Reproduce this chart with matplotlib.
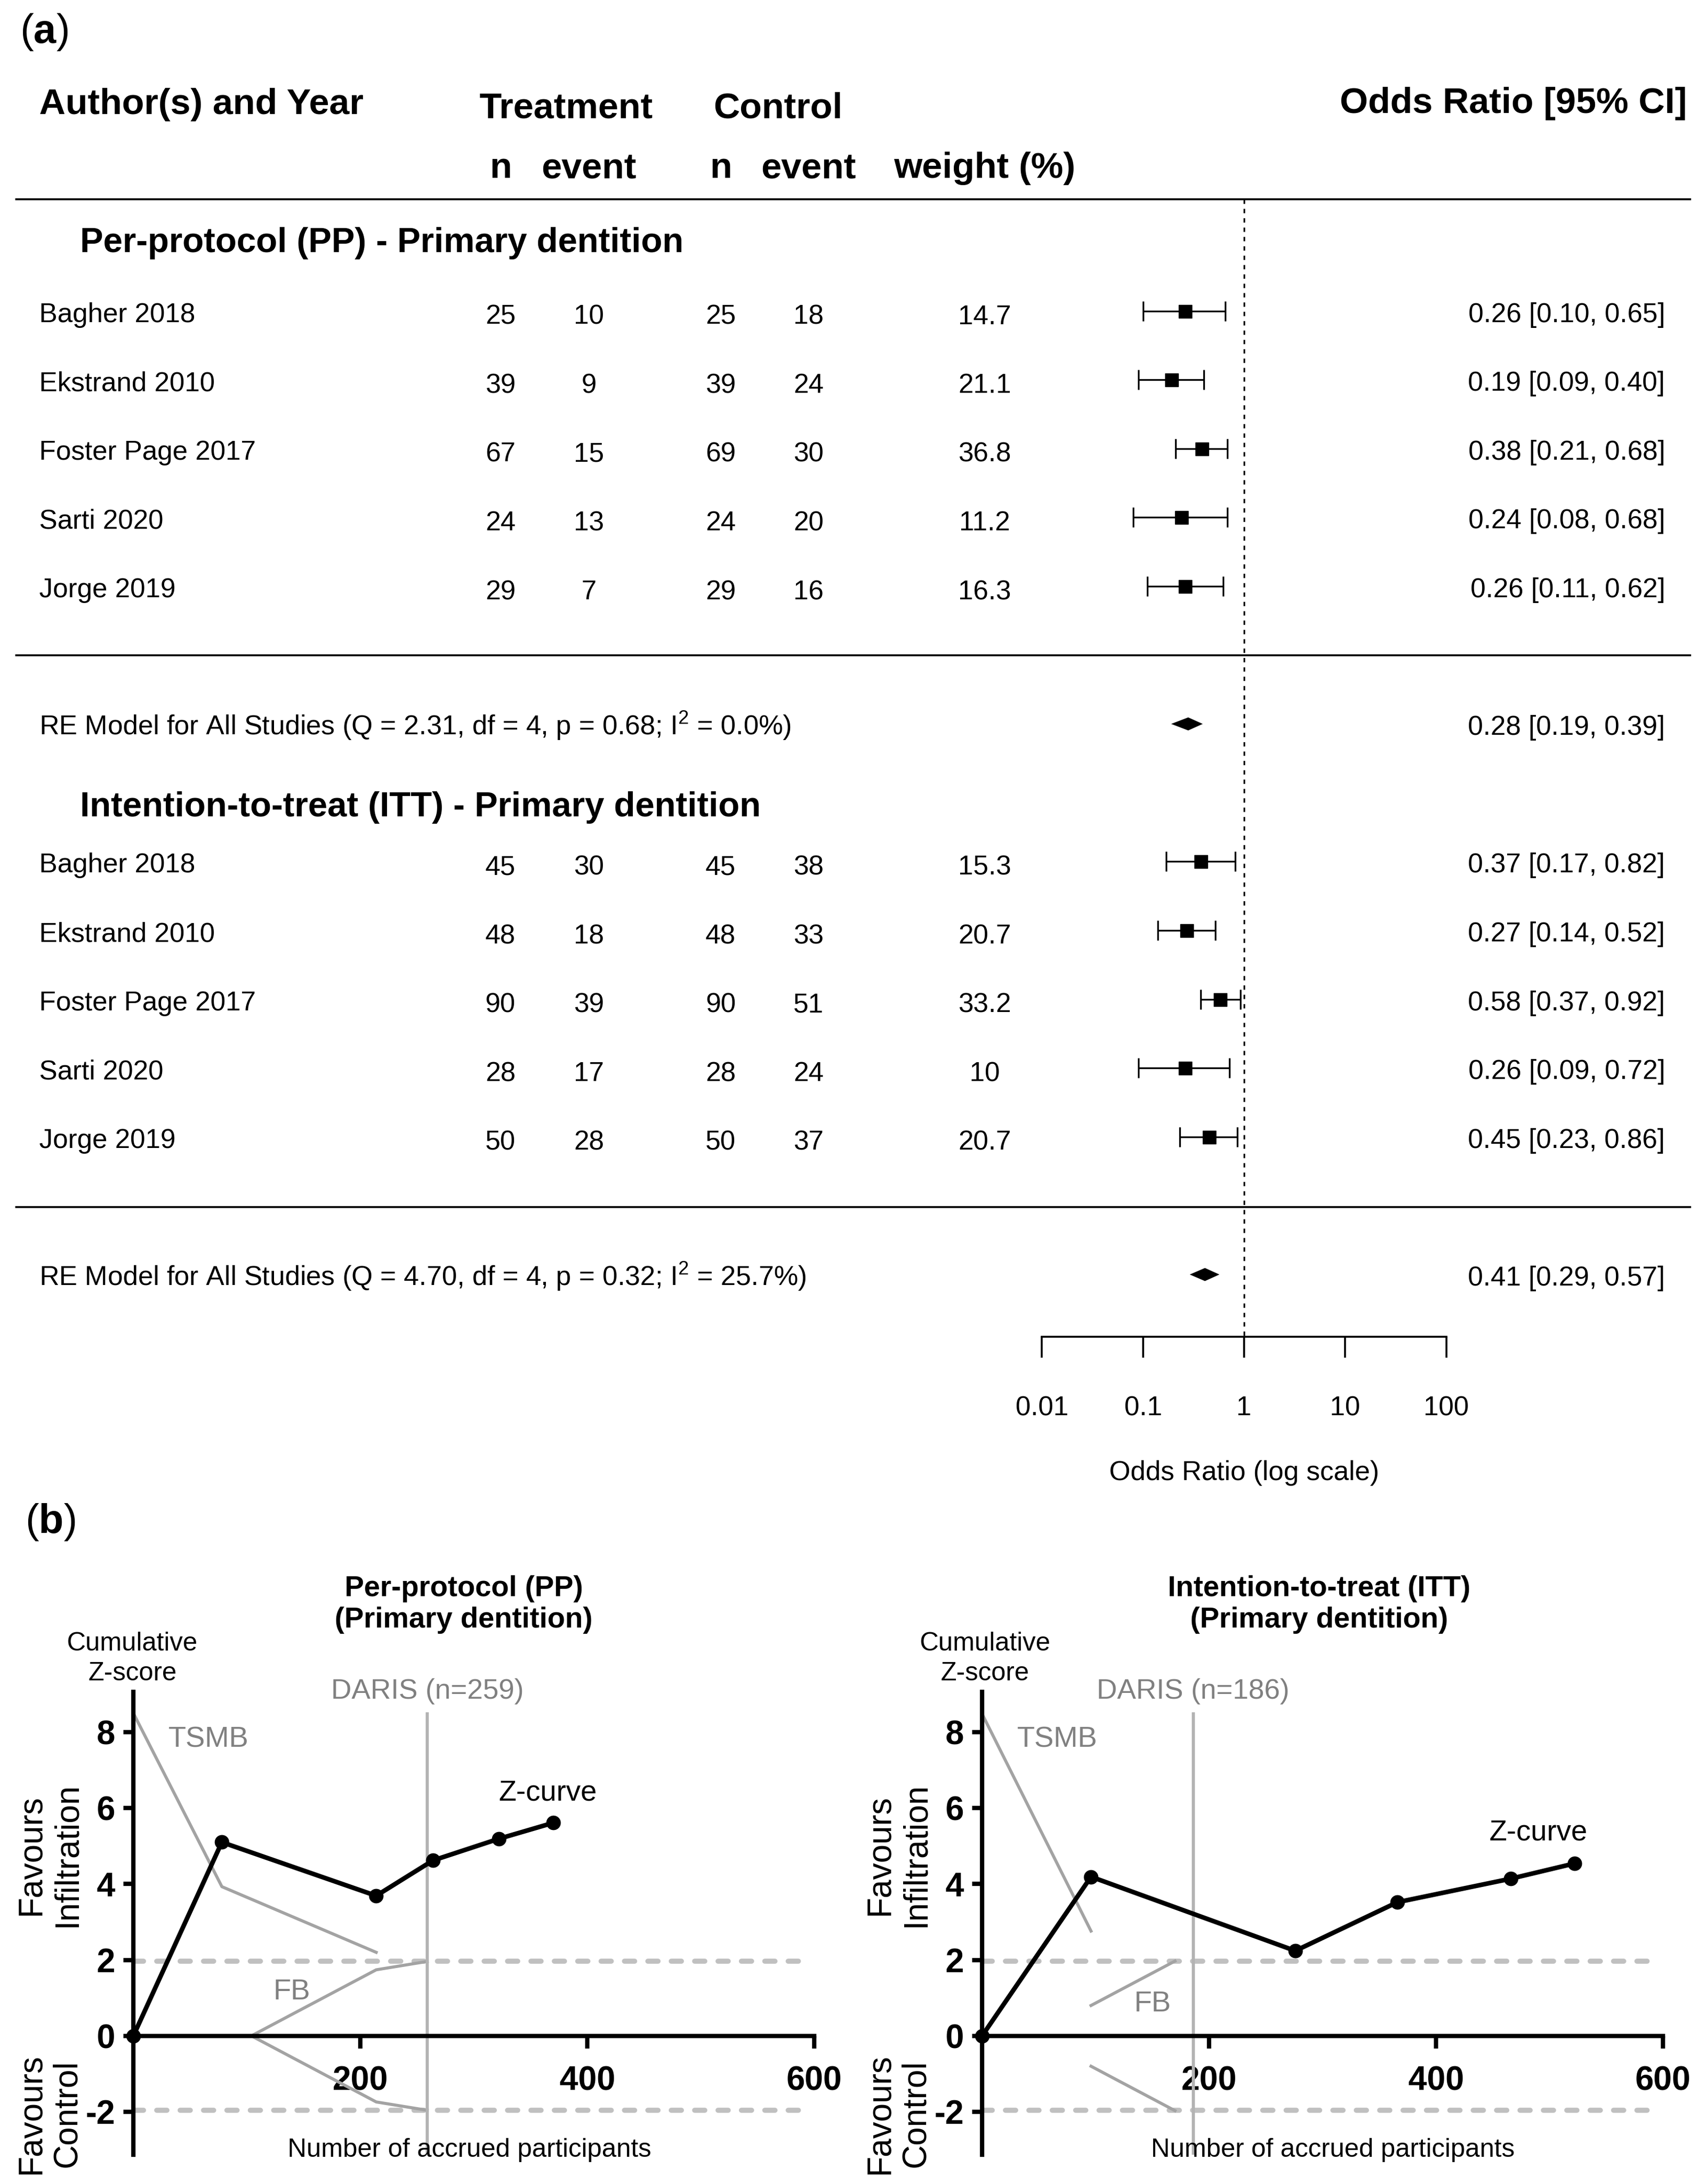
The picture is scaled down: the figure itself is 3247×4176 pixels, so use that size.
import matplotlib
matplotlib.use('Agg')
import matplotlib.pyplot as plt
from matplotlib import transforms
from matplotlib.ticker import FixedLocator, FixedFormatter

plt.rcParams['font.family'] = ['Liberation Sans', 'DejaVu Sans']
plt.rcParams['mathtext.fontset'] = 'custom'
plt.rcParams['mathtext.rm'] = 'Liberation Sans'
plt.rcParams['mathtext.bf'] = 'Liberation Sans:bold'
plt.rcParams['axes.unicode_minus'] = False

# ---------------- (a) forest plot data ----------------
authors = ['Bagher 2018', 'Ekstrand 2010', 'Foster Page 2017', 'Sarti 2020', 'Jorge 2019']

pp_trt_n = [25, 39, 67, 24, 29]
pp_trt_ev = [10, 9, 15, 13, 7]
pp_ctl_n = [25, 39, 69, 24, 29]
pp_ctl_ev = [18, 24, 30, 20, 16]
pp_weight = ['14.7', '21.1', '36.8', '11.2', '16.3']
pp_or = [0.26, 0.19, 0.38, 0.24, 0.26]
pp_lo = [0.10, 0.09, 0.21, 0.08, 0.11]
pp_hi = [0.65, 0.40, 0.68, 0.68, 0.62]
pp_re = [0.28, 0.19, 0.39]
pp_het = 'Q = 2.31, df = 4, p = 0.68; I$^2$ = 0.0%'

itt_trt_n = [45, 48, 90, 28, 50]
itt_trt_ev = [30, 18, 39, 17, 28]
itt_ctl_n = [45, 48, 90, 28, 50]
itt_ctl_ev = [38, 33, 51, 24, 37]
itt_weight = ['15.3', '20.7', '33.2', '10', '20.7']
itt_or = [0.37, 0.27, 0.58, 0.26, 0.45]
itt_lo = [0.17, 0.14, 0.37, 0.09, 0.23]
itt_hi = [0.82, 0.52, 0.92, 0.72, 0.86]
itt_re = [0.41, 0.29, 0.57]
itt_het = 'Q = 4.70, df = 4, p = 0.32; I$^2$ = 25.7%'

or_ticks = [0.01, 0.1, 1, 10, 100]
or_tick_labels = ['0.01', '0.1', '1', '10', '100']

# ---------------- (b) trial sequential analysis data ----------------
pp_z_n = [0, 78, 214, 264, 322, 370]
pp_z = [0, 5.10, 3.69, 4.62, 5.19, 5.61]
pp_tsmb_n = [0, 78, 214]
pp_tsmb_z = [8.5, 3.93, 2.2]
pp_fb_n = [259, 214, 104, 214, 259]
pp_fb_z = [1.96, 1.74, 0, -1.74, -1.96]
pp_daris = 259

itt_z_n = [0, 96, 276, 366, 466, 522]
itt_z = [0, 4.19, 2.24, 3.52, 4.14, 4.54]
itt_tsmb_n = [0, 96]
itt_tsmb_z = [8.48, 2.76]
itt_fb_up_n = [96, 170]
itt_fb_up_z = [0.80, 1.97]
itt_fb_lo_n = [96, 170]
itt_fb_lo_z = [-0.80, -1.97]
itt_daris = 186

W, H = 3247, 4176
fig = plt.figure(figsize=(W / 100, H / 100), dpi=100)


def fx(px):
    return px / W


def fy(py):
    return 1 - py / H


# ---------- forest axes: x = odds ratio (log), y = row units ----------
ROW = 131.6
X1 = 2379.0      # pixel of OR = 1
DEC = 193.3      # pixels per decade


def r_of(py):
    return 1 + (2437 - py) / ROW


FH = 2880
axf = fig.add_axes([0, fy(FH), 1, FH / H])
axf.set_xscale('log')
axf.set_xlim(10 ** ((0 - X1) / DEC), 10 ** ((W - X1) / DEC))
axf.set_ylim(r_of(FH), r_of(0))
axf.axis('off')
tr = transforms.blended_transform_factory(fig.transFigure, axf.transData)

FS = 37.5
HFS = 50


def txt(px, row, s, ha='left', size=FS, weight='normal'):
    axf.text(fx(px), row, s, transform=tr, ha=ha, va='baseline',
             fontsize=size, fontweight=weight)


# headers
fig.text(fx(38), fy(82), r'($\mathbf{a}$)', fontsize=56, va='baseline')
txt(75, r_of(218), 'Author(s) and Year', size=HFS, weight='bold')
txt(1082, r_of(225), 'Treatment', ha='center', size=HFS, weight='bold')
txt(1488, r_of(225), 'Control', ha='center', size=HFS, weight='bold')
txt(3226, r_of(216), 'Odds Ratio [95% CI]', ha='right', size=HFS, weight='bold')
for px, s in [(957, 'n'), (1126, 'event'), (1378, 'n'), (1546, 'event'),
              (1883, 'weight (%)')]:
    txt(px, r_of(340), s, ha='center', size=HFS, weight='bold')

for row in [r_of(381), 10.0, 1.98]:
    axf.axhline(row, xmin=fx(31), xmax=fx(3232), color='black', lw=2.6)

axf.plot([1, 1], [r_of(381), r_of(2556)], color='black', lw=2.3,
         linestyle=(0, (2.6, 3.0)))

cols = [957, 1126, 1378, 1546, 1883]


def section(title, title_row, rows, tn, te, cn, ce, wt, orv, lo, hi, re, re_row, het):
    txt(153, title_row, title, size=48, weight='bold')
    for i, r in enumerate(rows):
        txt(75, r - 0.16, authors[i])
        for px, v in zip(cols, [tn[i], te[i], cn[i], ce[i], wt[i]]):
            txt(px, r - 0.19, str(v), ha='center')
        txt(3184, r - 0.16, f'{orv[i]:.2f} [{lo[i]:.2f}, {hi[i]:.2f}]', ha='right')
    err = [[o - l for o, l in zip(orv, lo)], [h - o for o, h in zip(orv, hi)]]
    axf.errorbar(orv, rows, xerr=err, fmt='s', color='black', ms=18,
                 elinewidth=2.4, capsize=14, capthick=2.4)
    est, rlo, rhi = re
    axf.fill([rlo, est, rhi, est], [re_row, re_row + 0.095, re_row, re_row - 0.095],
             color='black', lw=0)
    txt(75, re_row - 0.16, 'RE Model for All Studies (' + het + ')')
    txt(3184, re_row - 0.16, f'{est:.2f} [{rlo:.2f}, {rhi:.2f}]', ha='right')


section('Per-protocol (PP) - Primary dentition', r_of(482), [15, 14, 13, 12, 11],
        pp_trt_n, pp_trt_ev, pp_ctl_n, pp_ctl_ev, pp_weight, pp_or, pp_lo, pp_hi,
        pp_re, 9, pp_het)
section('Intention-to-treat (ITT) - Primary dentition', r_of(1561), [7, 6, 5, 4, 3],
        itt_trt_n, itt_trt_ev, itt_ctl_n, itt_ctl_ev, itt_weight, itt_or, itt_lo,
        itt_hi, itt_re, 1, itt_het)

# odds ratio axis
x_lo = X1 - 2 * DEC
x_hi = X1 + 2 * DEC
axo = fig.add_axes([fx(x_lo), fy(2556), (x_hi - x_lo) / W, 0.0005])
axo.set_xscale('log')
axo.set_xlim(or_ticks[0], or_ticks[-1])
axo.patch.set_visible(False)
for s in ['top', 'left', 'right']:
    axo.spines[s].set_visible(False)
axo.spines['bottom'].set_linewidth(2.6)
axo.set_yticks([])
axo.xaxis.set_major_locator(FixedLocator(or_ticks))
axo.xaxis.set_major_formatter(FixedFormatter(or_tick_labels))
axo.xaxis.set_minor_locator(FixedLocator([]))
axo.tick_params(axis='x', direction='out', length=29, width=2.6,
                labelsize=FS, pad=52)
fig.text(fx(X1), fy(2830), 'Odds Ratio (log scale)', ha='center', va='baseline',
         fontsize=FS)

# ---------------- (b) ----------------
fig.text(fx(48), fy(2931), r'($\mathbf{b}$)', fontsize=56, va='baseline')

GREY_LINE = '#a3a3a3'
GREY_DARIS = '#b3b3b3'
GREY_DASH = '#c0c0c0'
GREY_TEXT = '#808080'

YB, YT = 4120, 3235
ZLO, ZHI = -3.13, 9.06
AX_LW = 6


def tsa_axes(left_px, right_px):
    ax = fig.add_axes([fx(left_px), fy(YB), (right_px - left_px) / W, (YB - YT) / H])
    ax.set_xlim(0, 600)
    ax.set_ylim(ZLO, ZHI)
    ax.patch.set_visible(False)
    ax.spines['top'].set_visible(False)
    ax.spines['right'].set_visible(False)
    ax.spines['bottom'].set_position(('data', 0))
    for s in ['left', 'bottom']:
        ax.spines[s].set_linewidth(AX_LW)
    ax.set_xticks([200, 400, 600])
    ax.set_yticks([-2, 0, 2, 4, 6, 8])
    ax.set_yticklabels(['-2', '0', '2', '4', '6', '8'])
    ax.tick_params(axis='x', direction='out', length=17, width=AX_LW,
                   labelsize=46, pad=24)
    ax.tick_params(axis='y', direction='out', length=14, width=AX_LW,
                   labelsize=46, pad=11)
    for lab in ax.get_xticklabels() + ax.get_yticklabels():
        lab.set_fontweight('bold')
    for z in [1.96, -1.96]:
        ax.plot([0, 590], [z, z], color=GREY_DASH, lw=7, linestyle=(0, (2.0, 2.6)),
                dash_capstyle='round', zorder=1)
    return ax


def labels(ax, title, title_x, cum_x, daris, tsmb_xy, fb_xy, zc_xy, xlab_x):
    ax.text(title_x, 11.36, title, ha='center', va='center', fontsize=40,
            fontweight='bold', linespacing=1.2, clip_on=False)
    ax.text(cum_x, 9.93, 'Cumulative\nZ-score', ha='center', va='center',
            fontsize=36, linespacing=1.3, clip_on=False)
    ax.text(daris, 9.07, f'DARIS (n={daris})', ha='center', va='center',
            fontsize=39, color=GREY_TEXT, clip_on=False)
    ax.text(*tsmb_xy, 'TSMB', ha='center', va='center', fontsize=40, color=GREY_TEXT)
    ax.text(*fb_xy, 'FB', ha='center', va='center', fontsize=40, color=GREY_TEXT)
    ax.text(*zc_xy, 'Z-curve', ha='center', va='center', fontsize=40)
    ax.text(xlab_x, -3.01, 'Number of accrued participants', ha='center',
            va='center', fontsize=36, clip_on=False)
    bt = transforms.blended_transform_factory(ax.transAxes, ax.transData)
    ax.text(-0.1237, 4.77, 'Favours\nInfiltration', transform=bt, rotation=90,
            ha='center', va='center', ma='center', fontsize=46, clip_on=False)
    ax.text(-0.1237, -2.05, 'Favours\nControl', transform=bt, rotation=90,
            ha='center', va='center', ma='center', fontsize=46, clip_on=False)


# left: per-protocol
axl = tsa_axes(255, 1557)
axl.plot(pp_tsmb_n, pp_tsmb_z, color=GREY_LINE, lw=4.2, zorder=2)
axl.plot(pp_fb_n, pp_fb_z, color=GREY_LINE, lw=4.2, zorder=2)
axl.plot([pp_daris, pp_daris], [ZLO, 8.48], color=GREY_DARIS, lw=4.2, zorder=2)
axl.plot(pp_z_n, pp_z, color='black', lw=6.3, marker='o', ms=19, zorder=5,
         clip_on=False)
labels(axl, 'Per-protocol (PP)\n(Primary dentition)', 291, -1, pp_daris,
       (66, 7.8), (139.5, 1.15), (365, 6.4), 296)

# right: intention-to-treat
axr = tsa_axes(1878, 3180)
axr.plot(itt_tsmb_n, itt_tsmb_z, color=GREY_LINE, lw=4.2, zorder=2)
axr.plot(itt_fb_up_n, itt_fb_up_z, color=GREY_LINE, lw=4.2, zorder=2)
axr.plot(itt_fb_lo_n, itt_fb_lo_z, color=GREY_LINE, lw=4.2, zorder=2)
axr.plot([itt_daris, itt_daris], [ZLO, 8.48], color=GREY_DARIS, lw=4.2, zorder=2)
axr.plot(itt_z_n, itt_z, color='black', lw=6.3, marker='o', ms=19, zorder=5,
         clip_on=False)
labels(axr, 'Intention-to-treat (ITT)\n(Primary dentition)', 297, 2.4, itt_daris,
       (66, 7.8), (150, 0.84), (490, 5.35), 309)

fig.savefig('out.png', dpi=100)
